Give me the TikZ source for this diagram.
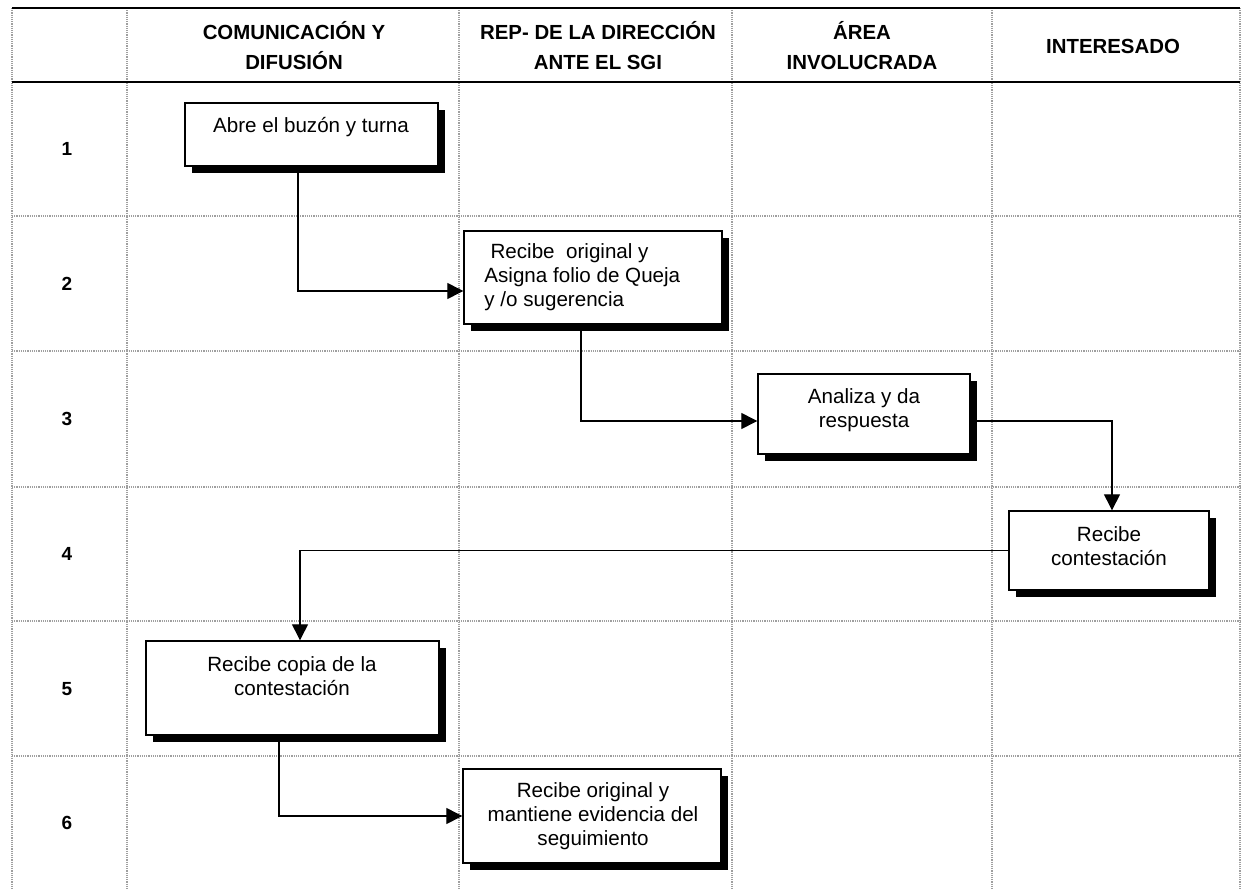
\documentclass[tikz,border=0pt]{standalone}
\usepackage{fontspec}
\setmainfont{Liberation Sans}
\usetikzlibrary{arrows.meta,shadows,fit,calc}
\begin{document}
\begin{tikzpicture}[x=0.5pt,y=-0.5pt,
 gridline/.style={draw=gray!75, line width=0.6pt, dash pattern=on 0.6pt off 0.5pt},
 headline/.style={draw=black, line width=1.1pt},
 procbox/.style={draw=black, fill=white, line width=0.7pt, inner sep=0pt,
   drop shadow={fill=black, opacity=1, shadow xshift=3.5pt, shadow yshift=-3.5pt}},
 boxtext/.style={font=\fontsize{10.3}{12}\selectfont, align=center, inner sep=0pt},
 headtext/.style={font=\bfseries\fontsize{10.2}{15}\selectfont, align=center, inner sep=0pt},
 numtext/.style={font=\bfseries\fontsize{9.5}{12}\selectfont, inner sep=0pt},
 flow/.style={draw=black, line width=0.65pt, -{Triangle[length=8pt,width=8pt]}}
]
\useasboundingbox (0,0) rectangle (1243,889);

% grid
\foreach \x in {12,127,459,732,992,1240} \draw[gridline] (\x,8) -- (\x,889);
\foreach \y in {216,351,487,621,756} \draw[gridline] (12,\y) -- (1240,\y);
\draw[headline] (12,8) -- (1240,8);
\draw[headline] (12,82) -- (1240,82);

% headers
\node[headtext] (h1) at (294,46) {COMUNICACIÓN Y\\DIFUSIÓN};
\node[headtext] (h2) at (598,46) {REP- DE LA DIRECCIÓN\\ANTE EL SGI};
\node[headtext] (h3) at (862,46) {ÁREA\\INVOLUCRADA};
\node[headtext] (h4) at (1113,46) {INTERESADO};

% row numbers
\node[numtext] (n1) at (67,149) {1};
\node[numtext] (n2) at (67,284) {2};
\node[numtext] (n3) at (67,419) {3};
\node[numtext] (n4) at (67,554) {4};
\node[numtext] (n5) at (67,689) {5};
\node[numtext] (n6) at (67,823) {6};

% boxes
\node[procbox, fit={(185,103)(438,166)}] (b1) {};
\node[procbox, fit={(464,231)(722,324)}] (b2) {};
\node[procbox, fit={(758,374)(970,454)}] (b3) {};
\node[procbox, fit={(1009,511)(1209,590)}] (b4) {};
\node[procbox, fit={(146,641)(439,735)}] (b5) {};
\node[procbox, fit={(463,769)(721,863)}] (b6) {};

% box texts
\node[boxtext] (t1) at (311,127) {Abre el buzón y turna};
\node[boxtext, align=left, anchor=west] (t2) at (484,277) {\hspace*{0.3em}Recibe\ \ original y\\Asigna folio de Queja\\y /o sugerencia};
\node[boxtext] (t3) at (864,410) {Analiza y da\\respuesta};
\node[boxtext] (t4) at (1109,546) {Recibe\\contestación};
\node[boxtext] (t5) at (292,676) {Recibe copia de la\\contestación};
\node[boxtext] (t6) at (593,816) {Recibe original y\\mantiene evidencia del\\seguimiento};

% connectors
\draw[flow] ([xshift=-6.75pt]b1.south) |- ([yshift=-6.75pt]b2.west);
\draw[flow] ([xshift=-6pt]b2.south) |- ([yshift=-3.5pt]b3.west);
\draw[flow] ([yshift=-3.5pt]b3.east) -| ([xshift=1.5pt]b4.north);
\draw[flow] (b4.west) -| ([xshift=3.75pt]b5.north);
\draw[flow] ([xshift=-6.75pt]b5.south) |- (b6.west);
\end{tikzpicture}
\end{document}
